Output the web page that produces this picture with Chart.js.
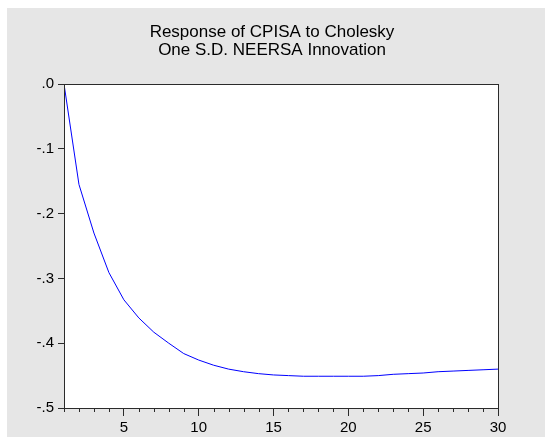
<!DOCTYPE html>
<html>
<head>
<meta charset="utf-8">
<script src="https://cdn.jsdelivr.net/npm/chart.js@4/dist/chart.umd.min.js"></script>
<style>
    html, body { margin: 0; padding: 0; background: #ffffff; }
    canvas { display: block; }
</style>
</head>
<body>
<canvas id="irf" width="545" height="437"></canvas>
<script>
// === Data ===
const titleLines = ["Response of CPISA to Cholesky", "One S.D. NEERSA Innovation"];
const periods = [1, 2, 3, 4, 5, 6, 7, 8, 9, 10, 11, 12, 13, 14, 15,
                 16, 17, 18, 19, 20, 21, 22, 23, 24, 25, 26, 27, 28, 29, 30];
const response = [0, -0.155, -0.230, -0.291, -0.333, -0.361, -0.383, -0.400, -0.416, -0.426,
                  -0.434, -0.440, -0.444, -0.447, -0.449, -0.450, -0.451, -0.451, -0.451, -0.451,
                  -0.451, -0.450, -0.448, -0.447, -0.446, -0.444, -0.443, -0.442, -0.441, -0.440];
const xMajorTicks = [5, 10, 15, 20, 25, 30];

// === Styling ===
const chartProps = {
    fontFamily: "'Liberation Sans', Arial, sans-serif",
    panelColor: "#e6e6e6",
    frameColor: "#2b2b2b",
    lineColor: "#0000ff",
    textColor: "#000000",
    majorTick: 8,
    minorTick: 4,
};

// background panel, white plot area, title
const panelPlugin = {
    id: "panel",
    beforeDraw(chart) {
        const { ctx, chartArea: a } = chart;
        ctx.save();
        ctx.fillStyle = "#ffffff";
        ctx.fillRect(0, 0, chart.width, chart.height);
        ctx.fillStyle = chartProps.panelColor;
        ctx.fillRect(7, 8, chart.width - 7, chart.height - 8);
        ctx.fillStyle = "#ffffff";
        ctx.fillRect(a.left, a.top, a.right - a.left, a.bottom - a.top);

        ctx.fillStyle = chartProps.textColor;
        ctx.font = "17px " + chartProps.fontFamily;
        ctx.textAlign = "center";
        ctx.textBaseline = "alphabetic";
        ctx.fillText(titleLines[0], 272, 37);
        ctx.fillText(titleLines[1], 272, 55);
        ctx.restore();
    },
    afterDraw(chart) {
        const { ctx, chartArea: a, scales } = chart;
        ctx.save();
        ctx.strokeStyle = chartProps.frameColor;
        ctx.lineWidth = 1;
        ctx.strokeRect(Math.round(a.left) + 0.5, Math.round(a.top) + 0.5,
                       Math.round(a.right - a.left), Math.round(a.bottom - a.top));
        // short ticks on every period that has no label
        ctx.beginPath();
        periods.filter(p => !xMajorTicks.includes(p)).forEach(p => {
            const x = Math.round(scales.x.getPixelForValue(p)) + 0.5;
            ctx.moveTo(x, a.bottom);
            ctx.lineTo(x, a.bottom + chartProps.minorTick);
        });
        ctx.stroke();
        ctx.restore();
    }
};

function createIRFChart(ctx) {
    return new Chart(ctx, {
        type: "line",
        data: {
            datasets: [{
                data: periods.map((p, i) => ({ x: p, y: response[i] })),
                borderColor: chartProps.lineColor,
                borderWidth: 1,
                pointRadius: 0,
                tension: 0,
                fill: false,
            }]
        },
        options: {
            responsive: false,
            animation: false,
            devicePixelRatio: 1,
            layout: { padding: { left: 0, top: 84, right: 47, bottom: 0 } },
            scales: {
                x: {
                    type: "linear",
                    min: 1,
                    max: 30,
                    afterBuildTicks: axis => { axis.ticks = xMajorTicks.map(value => ({ value })); },
                    afterFit: axis => { axis.height = 29; },
                    ticks: {
                        color: chartProps.textColor,
                        font: { family: chartProps.fontFamily, size: 15 },
                        padding: 3,
                        maxRotation: 0,
                        autoSkip: false,
                    },
                    grid: {
                        drawOnChartArea: false,
                        drawTicks: true,
                        tickLength: chartProps.majorTick,
                        tickColor: chartProps.frameColor,
                    },
                    border: { display: false },
                },
                y: {
                    min: -0.5,
                    max: 0,
                    afterFit: axis => { axis.width = 64; },
                    ticks: {
                        stepSize: 0.1,
                        color: chartProps.textColor,
                        font: { family: chartProps.fontFamily, size: 15 },
                        padding: 4,
                        callback: v => v.toFixed(1).replace("0.", "."),
                    },
                    grid: {
                        drawOnChartArea: false,
                        drawTicks: true,
                        tickLength: 6,
                        tickColor: chartProps.frameColor,
                    },
                    border: { display: false },
                }
            },
            plugins: {
                legend: { display: false },
                tooltip: { enabled: false },
                title: { display: false },
            }
        },
        plugins: [panelPlugin]
    });
}

const irfChart = createIRFChart(document.getElementById("irf"));
</script>
</body>
</html>
